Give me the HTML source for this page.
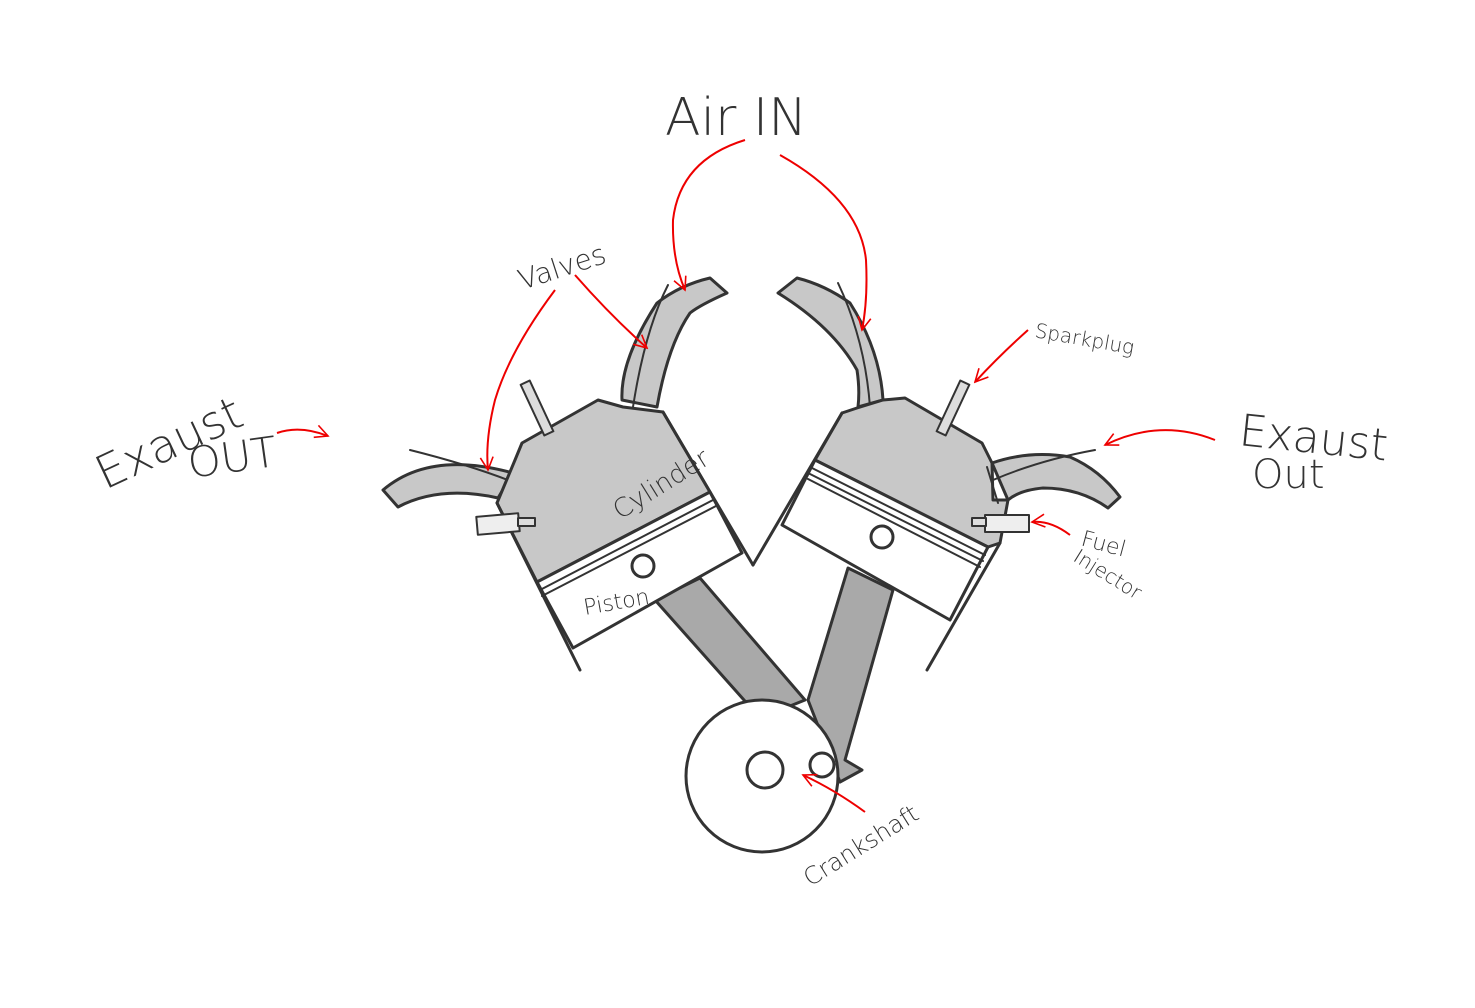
<!DOCTYPE html>
<html><head><meta charset="utf-8"><style>
html,body{margin:0;padding:0;background:#fff;}
svg{display:block;}
text{font-family:"DejaVu Sans","Liberation Sans",sans-serif;font-weight:200;fill:#333;}
</style></head><body>
<svg width="1475" height="1008" viewBox="0 0 1475 1008" xmlns="http://www.w3.org/2000/svg">
<defs>
<marker id="ah" viewBox="0 0 20 20" refX="18" refY="10" markerWidth="16" markerHeight="16" markerUnits="userSpaceOnUse" orient="auto">
<path d="M2 2 L18 10 L2 18" fill="none" stroke="#e00" stroke-width="2"/></marker>
</defs>
<g stroke="#333" stroke-width="3" stroke-linejoin="round" stroke-linecap="round">
<!-- rods -->
<polygon points="655,600 700,578 805,700 760,718" fill="#a9a9a9"/>
<polygon points="848,568 893,590 845,760 862,770 840,782 808,700" fill="#a9a9a9"/>
<!-- left pipes -->
<path d="M383,490 Q430,450 513,473 L498,498 Q440,485 398,507 Z" fill="#c8c8c8"/>
<path d="M410,450 Q470,465 513,482" fill="none" stroke-width="2"/>
<path d="M622,400 Q620,360 657,303 Q680,285 710,278 L727,293 Q700,305 690,313 Q668,345 657,407 Z" fill="#c8c8c8"/>
<path d="M633,407 Q645,330 668,285" fill="none" stroke-width="2"/>
<!-- left cylinder -->
<polygon points="515,460 522,443 598,400 623,407 663,412 710,492 537,582 497,503" fill="#c8c8c8"/>
<polygon points="537,582 710,492 742,553 573,648" fill="#fff"/>
<line x1="540" y1="590" x2="713" y2="500" stroke-width="2"/>
<line x1="542" y1="596" x2="716" y2="506" stroke-width="2"/>
<line x1="497" y1="503" x2="580" y2="670"/>
<line x1="663" y1="412" x2="753" y2="565"/>
<circle cx="643" cy="566" r="11" fill="#fff"/>
<rect x="532" y="380" width="10" height="56" fill="#ddd" stroke-width="2" transform="rotate(-25 537 408)"/>
<rect x="477" y="515" width="42" height="18" fill="#eee" stroke-width="2" transform="rotate(-5 498 524)"/>
<rect x="518" y="518" width="17" height="8" fill="#ddd" stroke-width="2"/>
<!-- right pipes -->
<path d="M778,293 Q833,327 857,370 Q860,390 858,407 L883,400 Q880,350 850,303 Q825,285 797,278 Z" fill="#c8c8c8"/>
<path d="M838,283 Q865,340 870,407" fill="none" stroke-width="2"/>
<path d="M992,463 Q1030,450 1070,457 Q1100,470 1120,497 L1108,508 Q1080,488 1043,488 Q1020,490 1008,500 Z" fill="#c8c8c8"/>
<path d="M993,480 Q1040,460 1095,450" fill="none" stroke-width="2"/>
<!-- right cylinder -->
<polygon points="842,413 857,408 883,400 905,398 982,443 992,463 993,500 1008,500 1000,543 988,547 815,460" fill="#c8c8c8"/>
<polygon points="815,460 988,547 950,620 782,525" fill="#fff"/>
<line x1="812" y1="468" x2="985" y2="555" stroke-width="2"/>
<line x1="810" y1="474" x2="983" y2="561" stroke-width="2"/>
<line x1="808" y1="479" x2="980" y2="567" stroke-width="2"/>
<line x1="842" y1="413" x2="753" y2="565"/>
<line x1="1000" y1="543" x2="927" y2="670"/>
<line x1="987" y1="467" x2="998" y2="503" stroke-width="2"/>
<circle cx="882" cy="537" r="11" fill="#fff"/>
<rect x="948" y="380" width="10" height="56" fill="#ddd" stroke-width="2" transform="rotate(25 953 408)"/>
<rect x="985" y="515" width="44" height="17" fill="#eee" stroke-width="2"/>
<rect x="972" y="518" width="14" height="8" fill="#ddd" stroke-width="2"/>
<!-- crank -->
<circle cx="762" cy="776" r="76" fill="#fff"/>
<circle cx="765" cy="770" r="18" fill="#fff"/>
<circle cx="822" cy="765" r="12" fill="#fff"/>
</g>
<!-- red arrows -->
<g fill="none" stroke="#e00" stroke-width="2" marker-end="url(#ah)">
<path d="M745,140 Q680,160 673,220 Q672,260 685,290"/>
<path d="M780,155 Q860,200 866,260 Q868,300 862,330"/>
<path d="M555,290 Q510,350 495,400 Q485,440 488,470"/>
<path d="M575,275 Q610,315 647,348"/>
<path d="M277,433 Q300,425 328,436"/>
<path d="M1028,330 Q1000,355 975,382"/>
<path d="M1215,440 Q1160,418 1105,445"/>
<path d="M1070,535 Q1050,520 1032,522"/>
<path d="M865,812 Q835,790 803,775"/>
</g>
<!-- labels -->
<text x="665" y="135" font-size="52">Air IN</text>
<text x="522" y="290" font-size="28" transform="rotate(-18 522 290)">Valves</text>
<text x="105" y="490" font-size="46" transform="rotate(-25 105 490)">Exaust</text>
<text x="190" y="478" font-size="42" transform="rotate(-8 190 478)">OUT</text>
<text x="1238" y="445" font-size="44" transform="rotate(6 1238 445)">Exaust</text>
<text x="1252" y="488" font-size="40">Out</text>
<text x="1034" y="337" font-size="20" transform="rotate(10 1034 337)">Sparkplug</text>
<text x="1080" y="545" font-size="22" transform="rotate(15 1080 545)">Fuel</text>
<text x="1072" y="560" font-size="20" transform="rotate(32 1072 560)">Injector</text>
<text x="620" y="520" font-size="26" transform="rotate(-32 620 520)">Cylinder</text>
<text x="585" y="615" font-size="22" transform="rotate(-10 585 615)">Piston</text>
<text x="810" y="887" font-size="24" transform="rotate(-32 810 887)">Crankshaft</text>
</svg>
</body></html>
